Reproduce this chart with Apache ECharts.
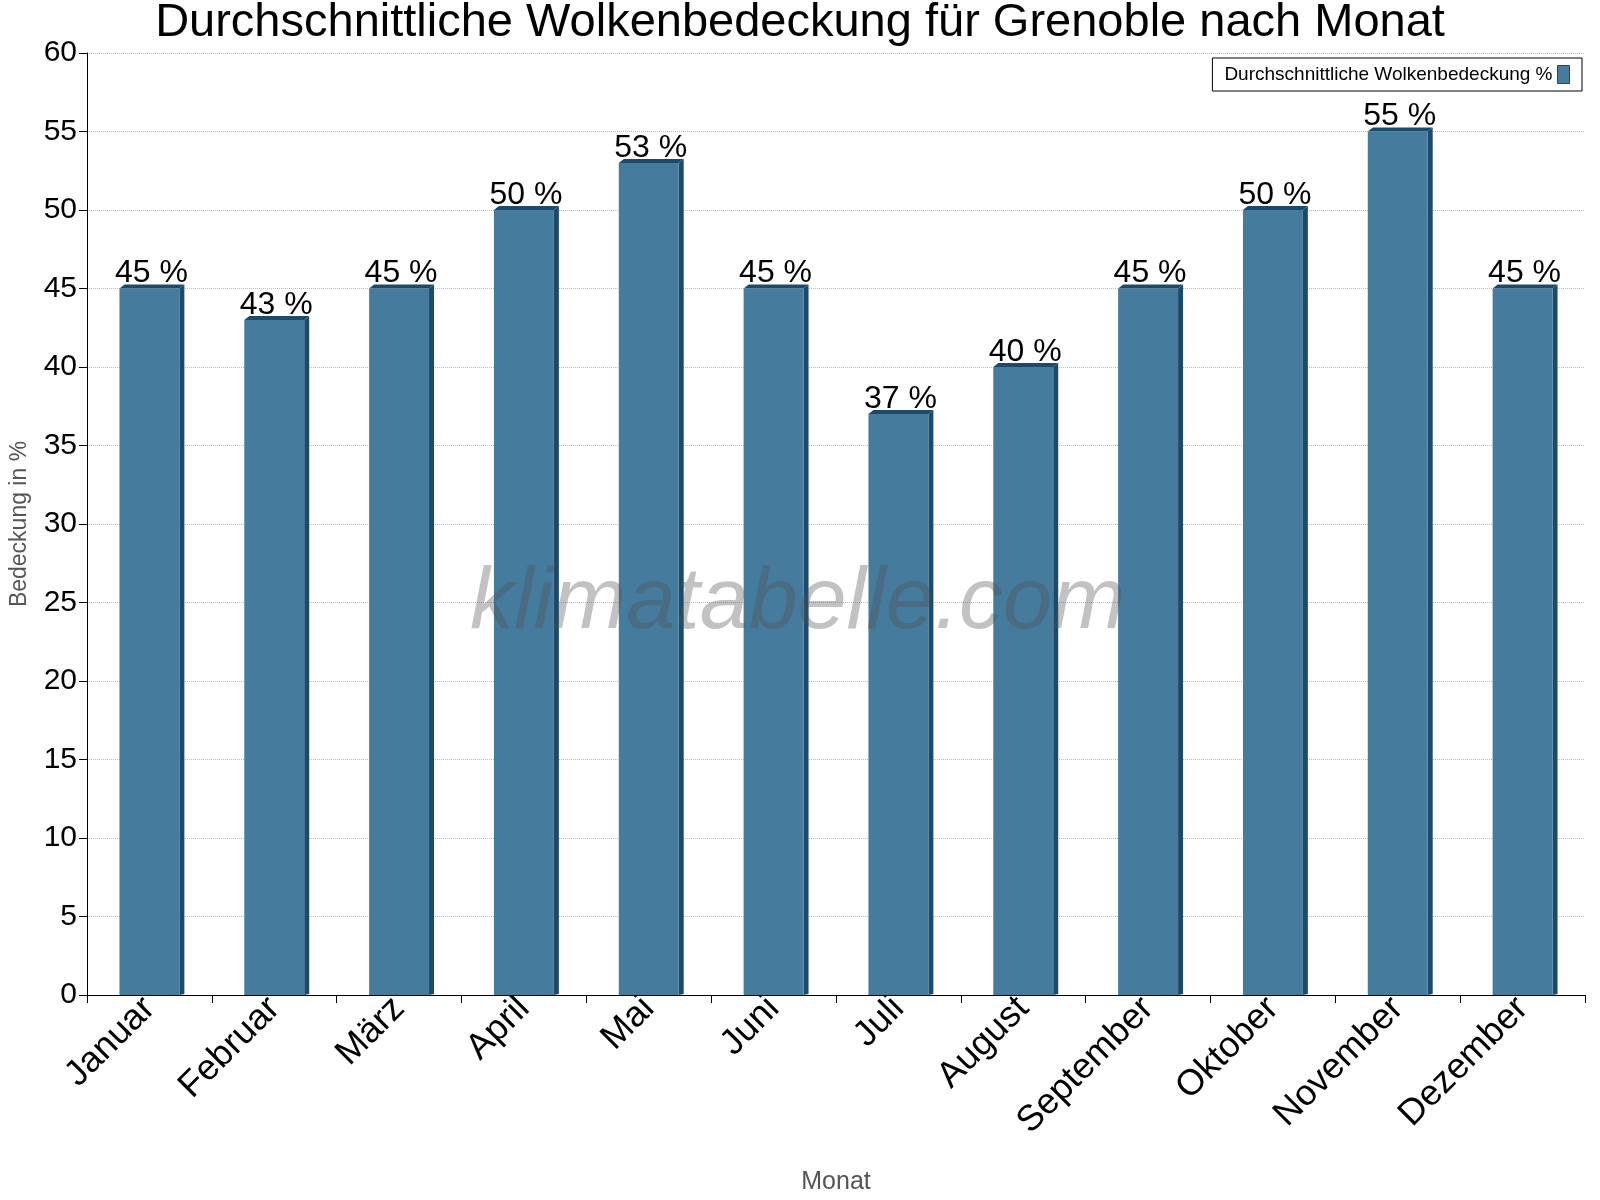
<!DOCTYPE html>
<html><head><meta charset="utf-8">
<script src="https://cdn.jsdelivr.net/npm/echarts@6/dist/echarts.min.js"></script>
<style>html,body{margin:0;padding:0;background:#fff}#c{width:1600px;height:1200px}</style>
</head><body><div id="c"></div>
<script>
const months = ['Januar','Februar','März','April','Mai','Juni','Juli','August','September','Oktober','November','Dezember'];
const cover = [45,43,45,50,53,45,37,40,45,50,55,45];
const yTicks = [0,5,10,15,20,25,30,35,40,45,50,55,60];

const chart = echarts.init(document.getElementById('c'));
const F = 'Liberation Sans, Arial, sans-serif';
chart.setOption({
  animation:false,
  title:{text:'Durchschnittliche Wolkenbedeckung für Grenoble nach Monat',left:'center',top:-5,
    textStyle:{fontFamily:F,fontSize:47,fontWeight:'normal',color:'#000'}},
  graphic:[{type:'text',left:470,top:560,z:100,style:{text:'klimatabelle.com',fontFamily:F,fontStyle:'italic',fontSize:88,fill:'rgba(80,80,80,0.35)'}}],
  legend:{right:18,top:58,itemWidth:12,itemHeight:18,icon:'rect',align:'right',
    borderColor:'#000',borderWidth:1,padding:[7,12,7,12],borderRadius:0,
    textStyle:{fontFamily:F,fontSize:19,color:'#000'},
    data:[{name:'Durchschnittliche Wolkenbedeckung %',itemStyle:{color:'#457b9d',borderColor:'#1a4a6b',borderWidth:1}}]},
  grid:{left:77,right:15,top:53,bottom:195},
  xAxis:{type:'category',data:months,
    axisLine:{lineStyle:{color:'#000'}},axisTick:{show:true,length:8,lineStyle:{color:'#000'},inside:false},
    axisLabel:{rotate:45,fontFamily:F,fontSize:36,color:'#000',margin:8,padding:[0,0,0,0],
      formatter:v=>'{a|'+v+'}',rich:{a:{fontFamily:F,fontSize:36,color:'#000',padding:[0,0,0,0]}}},
    name:'Monat',nameLocation:'middle',nameGap:175,nameTextStyle:{fontFamily:F,fontSize:25,color:'#555'}},
  yAxis:{type:'value',min:0,max:60,interval:5,
    axisLine:{show:true,lineStyle:{color:'#000'}},axisTick:{show:true,length:8,lineStyle:{color:'#000'}},
    axisLabel:{fontFamily:F,fontSize:30,color:'#000',margin:10},
    splitLine:{lineStyle:{color:'#bbb',type:'dotted'}},
    name:'Bedeckung in %',nameLocation:'middle',nameGap:56,nameTextStyle:{fontFamily:F,fontSize:23,color:'#555'}},
  series:[{name:'Durchschnittliche Wolkenbedeckung %',type:'custom',
    itemStyle:{color:'#457b9d'},
    data:cover.map((v,i)=>[i,v]),
    renderItem:function(params,api){
      const top=api.coord([api.value(0),api.value(1)]);
      const bot=api.coord([api.value(0),0]);
      const bw=api.size([1,0])[0]*0.48;
      const x0=top[0]-bw/2, x1=top[0]+bw/2, d=5;
      return {type:'group',children:[
        {type:'polygon',shape:{points:[[x1,top[1]],[x1+d,top[1]-d+1],[x1+d,bot[1]-1],[x1,bot[1]]]},style:{fill:'#1d4a6b'}},
        {type:'polygon',shape:{points:[[x0,top[1]],[x0+d,top[1]-d+1],[x1+d,top[1]-d+1],[x1,top[1]]]},style:{fill:'#1d4a6b'}},
        {type:'rect',shape:{x:x0,y:top[1],width:bw,height:bot[1]-top[1]},style:{fill:'#457b9d'}},
        {type:'text',style:{text:api.value(1)+' %',x:top[0]+2,y:top[1]+1,align:'center',verticalAlign:'bottom',fontFamily:F,fontSize:32,fill:'#000'}}
      ]};
    }}]
});
</script></body></html>
